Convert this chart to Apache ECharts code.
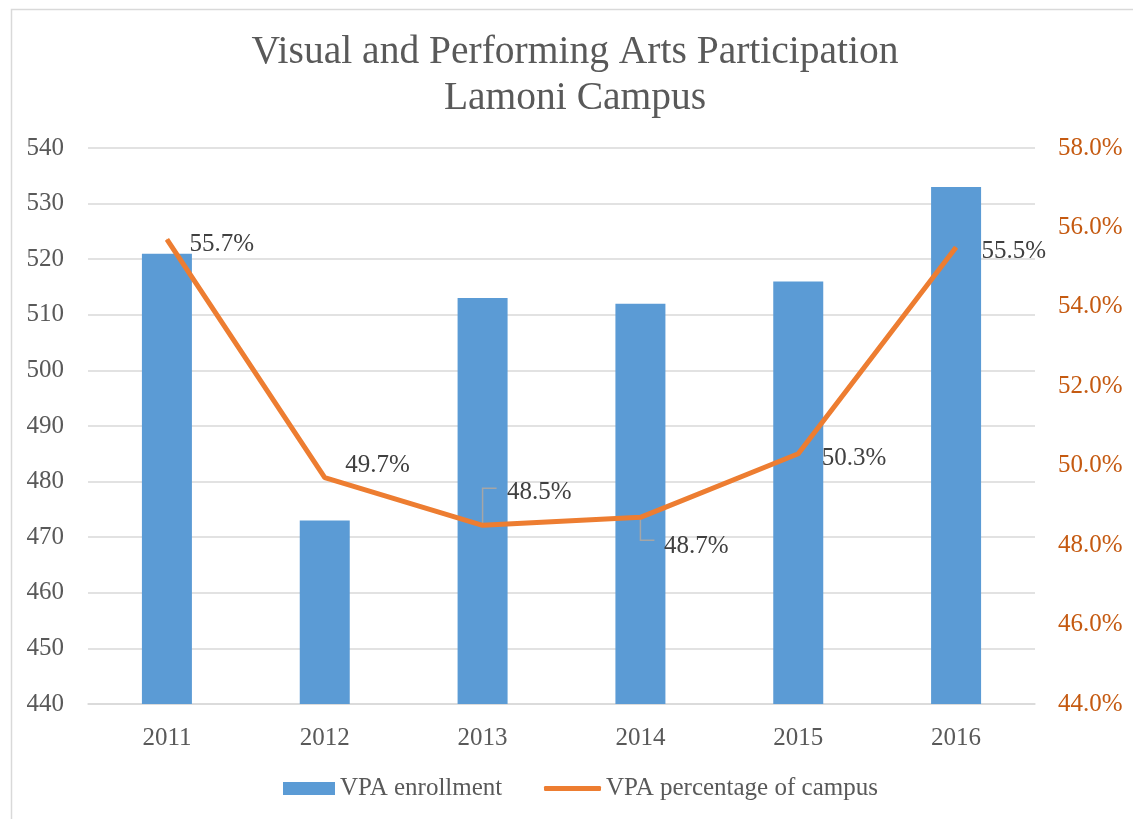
<!DOCTYPE html>
<html>
<head>
<meta charset="utf-8">
<script src="https://cdn.jsdelivr.net/npm/echarts@6/dist/echarts.min.js"></script>
<style>
html,body{margin:0;padding:0;background:#fff;}
#chart{width:1133px;height:819px;}
</style>
</head>
<body>
<div id="chart"></div>
<script>
var categories = ['2011', '2012', '2013', '2014', '2015', '2016'];
var enrollment = [521, 473, 513, 512, 516, 533];
var percentage = [55.7, 49.7, 48.5, 48.7, 50.3, 55.5];
var titleLines = ['Visual and Performing Arts Participation', 'Lamoni Campus'];
var seriesNames = ['VPA enrollment', 'VPA percentage of campus'];

var FONT = '"Liberation Serif", "Times New Roman", serif';
var FS = 25;
var labelOffsets = [[17, 5], [15, -12], [19, -33], [18, 29], [18, 5], [20, 4]];
// leader line elbows (pixel offsets from the data point): [vertical dy, horizontal dx]
var leaderShape = [null, null, [-37, 14], [23, 14], null, null];

var lineData = percentage.map(function (v, i) {
  return { value: v, label: { offset: labelOffsets[i] } };
});

var chart = echarts.init(document.getElementById('chart'), null, { renderer: 'canvas' });
chart.setOption({
  animation: false,
  backgroundColor: '#fff',
  graphic: [{
    type: 'rect', left: 9, top: 7,
    shape: { width: 1140, height: 830 },
    style: { fill: 'none', stroke: '#D9D9D9', lineWidth: 1.5 },
    silent: true
  }],
  title: {
    text: titleLines.join('\n'),
    left: 570,
    textAlign: 'center',
    top: 25,
    textStyle: { fontFamily: FONT, fontSize: 39.5, fontWeight: 'normal', color: '#595959', lineHeight: 46 }
  },
  legend: [{
    data: [{ name: seriesNames[0], icon: 'rect' }],
    left: 283,
    top: 776,
    padding: 0,
    itemWidth: 52,
    itemHeight: 13,
    itemGap: 4,
    textStyle: { fontFamily: FONT, fontSize: FS, color: '#595959' }
  }, {
    data: [{ name: seriesNames[1], icon: 'roundRect' }],
    left: 544,
    top: 776,
    padding: 0,
    itemWidth: 57,
    itemHeight: 5,
    textStyle: { fontFamily: FONT, fontSize: FS, color: '#595959' }
  }],
  grid: { left: 88, right: 98, top: 148, bottom: 115, containLabel: false },
  xAxis: {
    type: 'category',
    data: categories,
    axisTick: { show: false },
    axisLine: { lineStyle: { color: '#D9D9D9', width: 1.5 } },
    axisLabel: { fontFamily: FONT, fontSize: FS, color: '#595959', margin: 22 }
  },
  yAxis: [{
    type: 'value', min: 440, max: 540, interval: 10,
    axisLine: { show: false }, axisTick: { show: false },
    splitLine: { lineStyle: { color: '#D9D9D9', width: 1.5 } },
    axisLabel: { fontFamily: FONT, fontSize: FS, color: '#595959', margin: 24 }
  }, {
    type: 'value', min: 44, max: 58, interval: 2,
    axisLine: { show: false }, axisTick: { show: false },
    splitLine: { show: false },
    axisLabel: {
      fontFamily: FONT, fontSize: FS, color: '#C55A11', margin: 23,
      formatter: function (v) { return v.toFixed(1) + '%'; }
    }
  }],
  series: [{
    name: seriesNames[0],
    type: 'bar',
    data: enrollment,
    barWidth: 50,
    z: 2,
    itemStyle: { color: '#5B9BD5' }
  }, {
    name: 'leaders',
    type: 'custom',
    yAxisIndex: 1,
    silent: true,
    z: 3,
    data: percentage.map(function (v, i) { return [i, v]; }),
    renderItem: function (params, api) {
      var s = leaderShape[params.dataIndex];
      if (!s) return null;
      var p = api.coord([api.value(0), api.value(1)]);
      return {
        type: 'polyline',
        shape: { points: [[p[0], p[1]], [p[0], p[1] + s[0]], [p[0] + s[1], p[1] + s[0]]] },
        style: { stroke: '#A6A6A6', lineWidth: 1.5, fill: 'none' }
      };
    }
  }, {
    name: seriesNames[1],
    type: 'line',
    yAxisIndex: 1,
    z: 4,
    data: lineData,
    symbol: 'circle',
    symbolSize: 1,
    showSymbol: true,
    itemStyle: { color: '#ED7D31' },
    lineStyle: { color: '#ED7D31', width: 5 },
    label: {
      show: true,
      position: 'right',
      fontFamily: FONT, fontSize: FS, color: '#404040',
      formatter: function (p) { return p.value.toFixed(1) + '%'; }
    }
  }]
});
</script>
</body>
</html>
